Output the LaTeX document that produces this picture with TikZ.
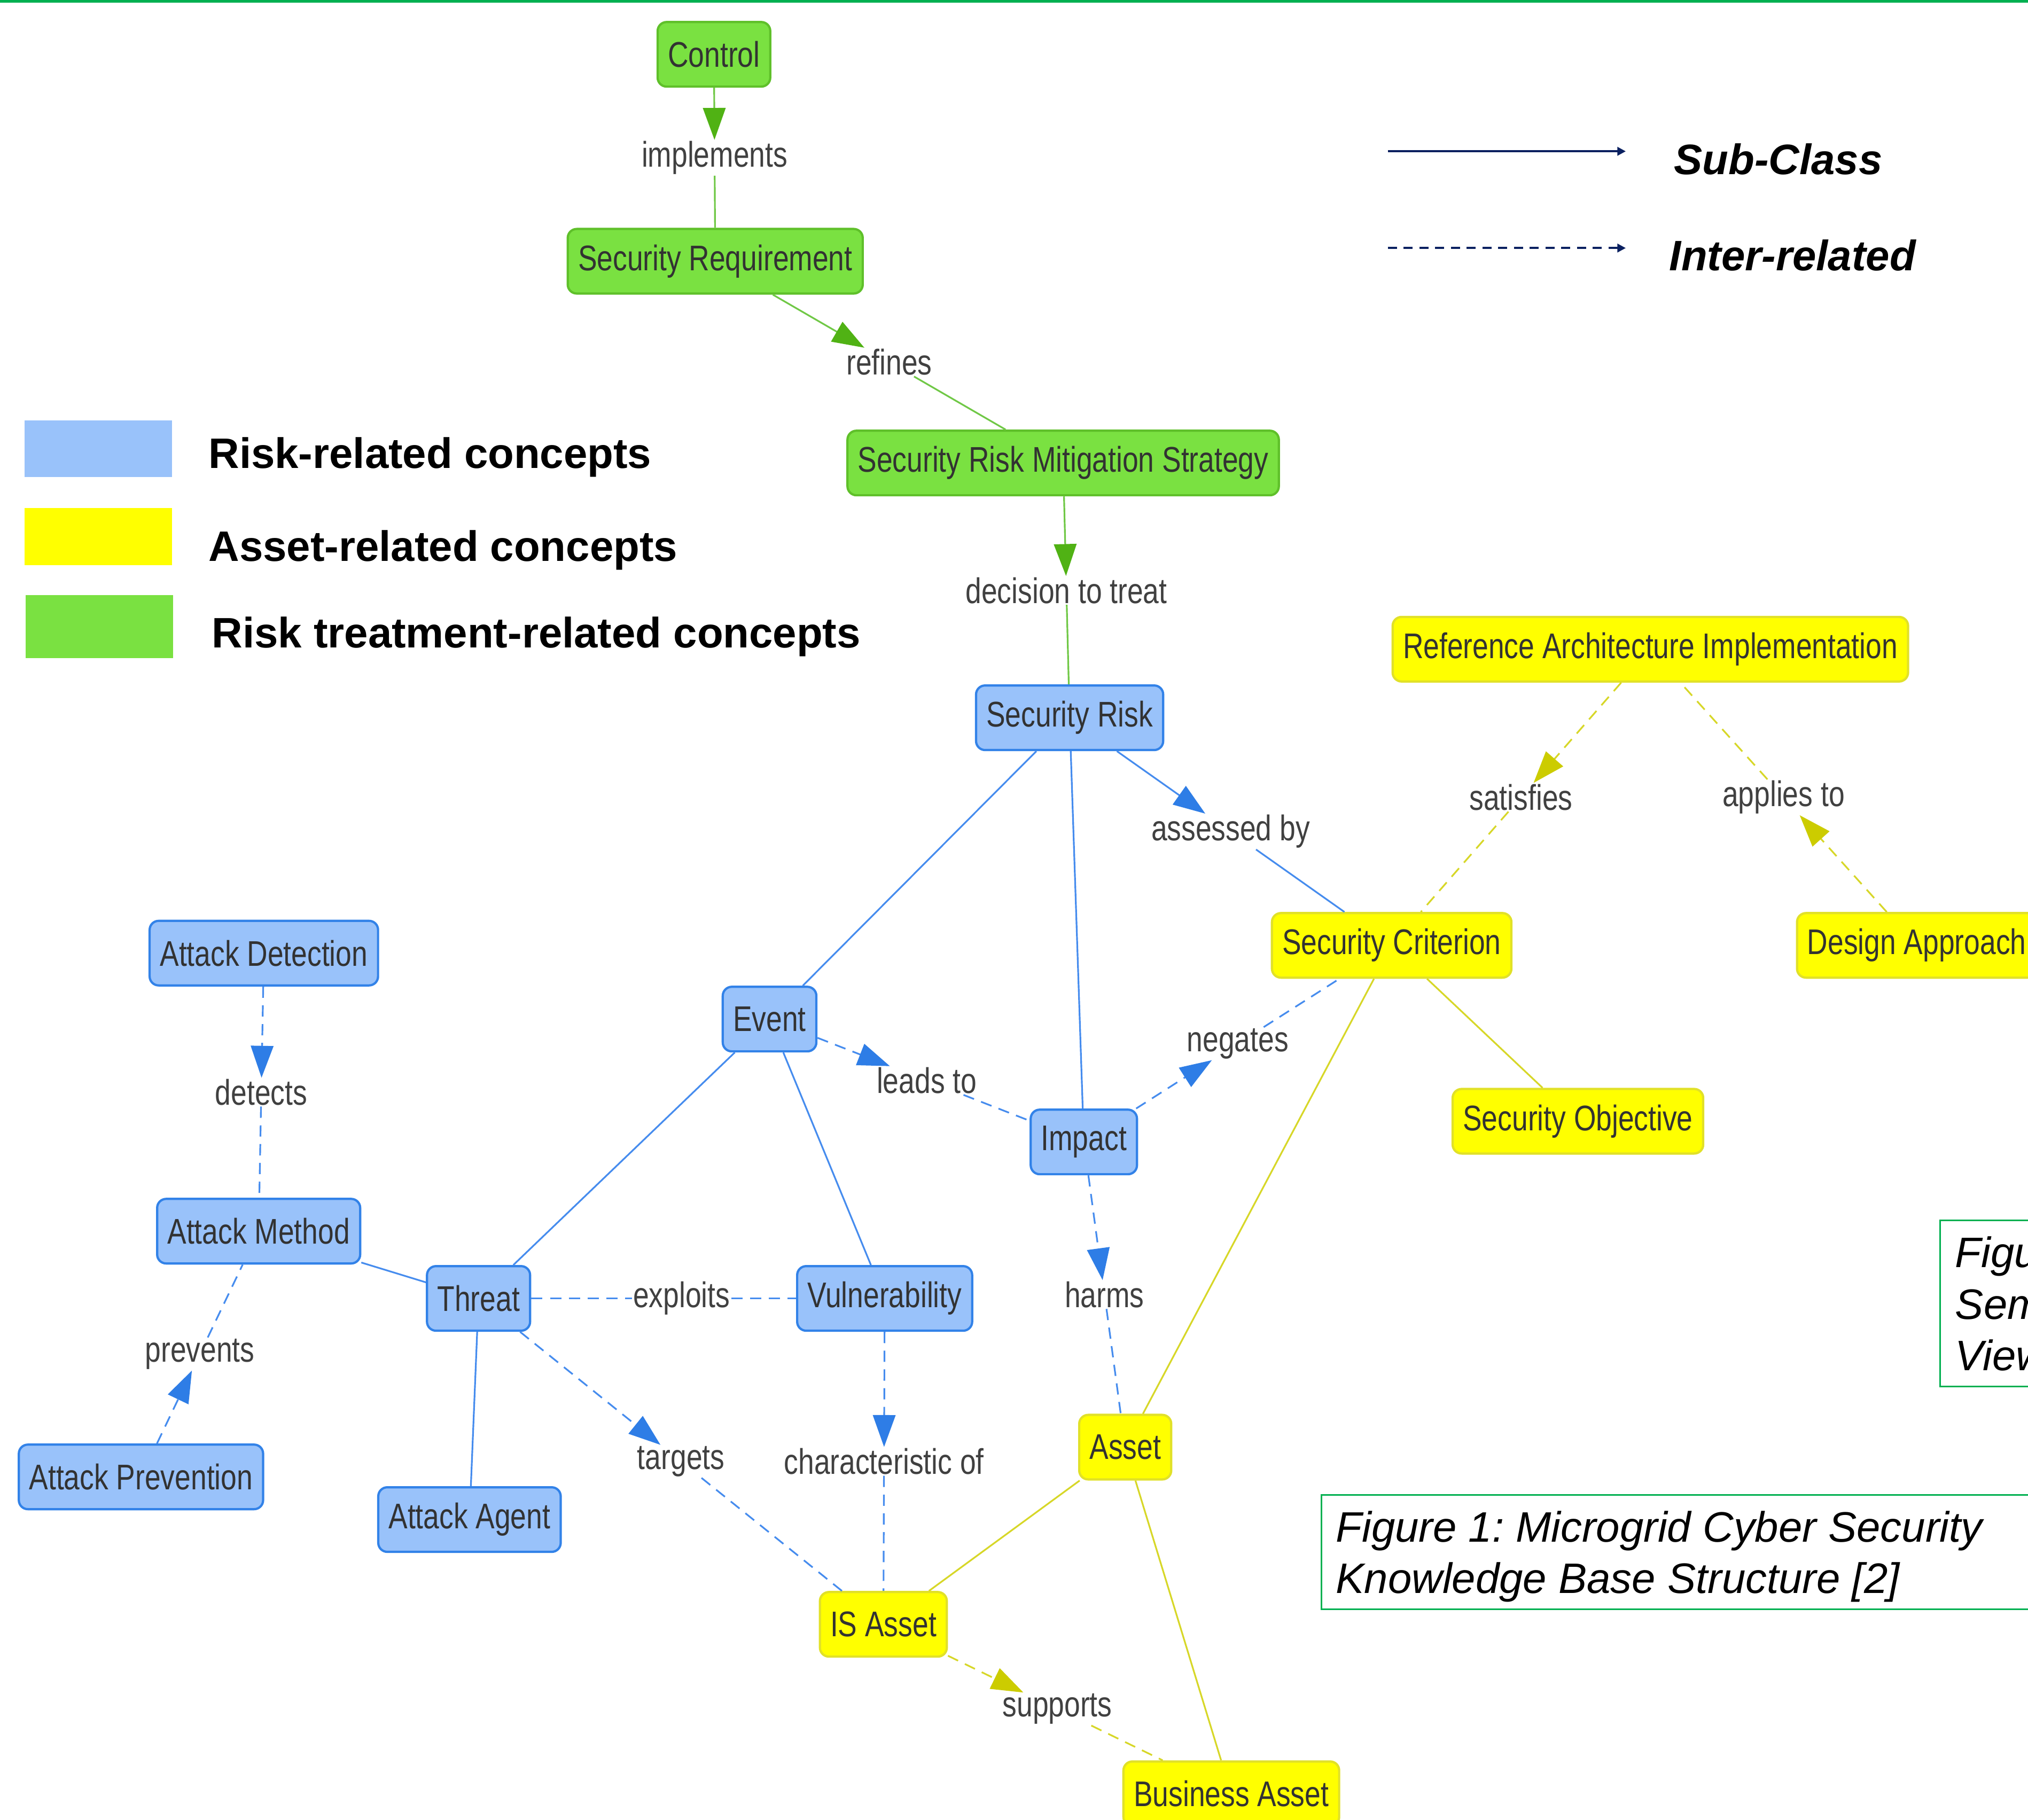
\documentclass[tikz,border=0pt]{standalone}
\usepackage{fontspec}
\usetikzlibrary{arrows.meta,calc}
\frenchspacing
\newfontfamily\nodefont[FakeStretch=0.8]{Liberation Sans}
\newfontfamily\legfont{Liberation Sans}
\definecolor{bfill}{RGB}{153,194,250}
\definecolor{bdraw}{RGB}{50,130,232}
\definecolor{bline}{RGB}{70,140,238}
\definecolor{barrow}{RGB}{46,125,230}
\definecolor{gfill}{RGB}{122,225,65}
\definecolor{gdraw}{RGB}{95,192,42}
\definecolor{gline}{RGB}{112,200,70}
\definecolor{garrow}{RGB}{80,178,20}
\definecolor{yfill}{RGB}{255,255,0}
\definecolor{ydraw}{RGB}{225,225,40}
\definecolor{yline}{RGB}{215,215,40}
\definecolor{yarrow}{RGB}{204,204,0}
\definecolor{nodetext}{RGB}{50,50,50}
\definecolor{labtext}{RGB}{64,64,64}
\definecolor{navy}{RGB}{10,32,96}
\definecolor{capgreen}{RGB}{0,176,80}
\tikzset{
  cnode/.style={draw, rounded corners=4.8pt, line width=1.2pt, minimum height=34.4pt,
    inner xsep=5.5pt, inner ysep=0pt, text=nodetext,
    font=\nodefont\fontsize{19}{22}\selectfont},
  risk/.style={cnode, fill=bfill, draw=bdraw},
  assetc/.style={cnode, fill=yfill, draw=ydraw},
  treat/.style={cnode, fill=gfill, draw=gdraw},
  lab/.style={inner sep=0.5pt, text=labtext, font=\nodefont\fontsize{19}{22}\selectfont},
  bl/.style={draw=bline, line width=0.9pt},
  bld/.style={bl, dash pattern=on 6pt off 4pt},
  gl/.style={draw=gline, line width=0.9pt},
  yl/.style={draw=yline, line width=0.9pt},
  yld/.style={yl, dash pattern=on 6pt off 4pt},
  barr/.style={-{Triangle[length=17pt,width=12pt,color=barrow]}},
  garr/.style={-{Triangle[length=17pt,width=12pt,color=garrow]}},
  yarr/.style={-{Triangle[length=17pt,width=12pt,color=yarrow]}},
  legtext/.style={anchor=base west, inner sep=0pt, font=\legfont\bfseries\fontsize{22.7}{27}\selectfont},
  keytext/.style={anchor=base west, inner sep=0pt, font=\legfont\bfseries\itshape\fontsize{22.7}{27}\selectfont},
  captext/.style={anchor=base west, inner sep=0pt, font=\legfont\itshape\fontsize{22.7}{27}\selectfont},
}
\begin{document}
\begin{tikzpicture}[x=0.02421cm, y=-0.02421cm]
\useasboundingbox (0,0) rectangle (1568,1407.3);
\clip (0,0) rectangle (1568,1407.3);
\fill[white] (0,0) rectangle (1568,1407.3);
\draw[capgreen, line width=1.4pt] (0,1) -- (1568,1);

% nodes
\node[treat] (ctrl) at (552,42) {Control};
\node[treat] (sreq) at (553,202) {Security Requirement};
\node[treat] (srms) at (822,358) {Security Risk Mitigation Strategy};
\node[risk] (srisk) at (827,555) {Security Risk};
\node[assetc] (rai) at (1276,502) {Reference Architecture Implementation};
\node[assetc] (scrit) at (1076,731) {Security Criterion};
\node[assetc] (dapp) at (1482,731) {Design Approach};
\node[risk] (adet) at (204,737) {Attack Detection};
\node[risk] (event) at (595,788) {Event};
\node[risk] (impact) at (838,883) {Impact};
\node[assetc] (sobj) at (1220,867) {Security Objective};
\node[risk] (amethod) at (200,952) {Attack Method};
\node[risk] (threat) at (370,1004) {Threat};
\node[risk] (vuln) at (684,1004) {Vulnerability};
\node[risk] (aprev) at (109,1142) {Attack Prevention};
\node[risk] (aagent) at (363,1175) {Attack Agent};
\node[assetc] (asset) at (870,1119) {Asset};
\node[assetc] (isasset) at (683,1256) {IS Asset};
\node[assetc] (basset) at (952,1387) {Business Asset};

% labels
\node[lab] (limp) at ($(ctrl)!0.5!(sreq)$) {implements};
\node[lab] (lref) at ($(sreq)!0.5!(srms)$) {refines};
\node[lab] (ldec) at ($(srms)!0.5!(srisk)$) {decision to treat};
\node[lab] (lass) at ($(srisk)!0.5!(scrit)$) {assessed by};
\node[lab] (llead) at ($(event)!0.5!(impact)$) {leads to};
\node[lab] (lneg) at ($(impact)!0.5!(scrit)$) {negates};
\node[lab] (lharm) at ($(impact)!0.5!(asset)$) {harms};
\node[lab] (lexp) at ($(threat)!0.5!(vuln)$) {exploits};
\node[lab] (ltar) at ($(threat)!0.5!(isasset)$) {targets};
\node[lab] (lchar) at ($(vuln)!0.5!(isasset)$) {characteristic of};
\node[lab] (ldet) at ($(adet)!0.5!(amethod)$) {detects};
\node[lab] (lprev) at ($(aprev)!0.5!(amethod)$) {prevents};
\node[lab] (lsat) at ($(rai)!0.5!(scrit)$) {satisfies};
\node[lab] (lapp) at ($(dapp)!0.5!(rai)$) {applies to};
\node[lab] (lsup) at ($(isasset)!0.5!(basset)$) {supports};

% green edges
\draw[gl,garr] (ctrl) -- (limp); \draw[gl] (limp) -- (sreq);
\draw[gl,garr] (sreq) -- (lref); \draw[gl] (lref) -- (srms);
\draw[gl,garr] (srms) -- (ldec); \draw[gl] (ldec) -- (srisk);

% blue solid
\draw[bl] (srisk) -- (event);
\draw[bl] (srisk) -- (impact);
\draw[bl,barr] (srisk) -- (lass); \draw[bl] (lass) -- (scrit);
\draw[bl] (event) -- (threat);
\draw[bl] (event) -- (vuln);
\draw[bl] (amethod) -- (threat);
\draw[bl] (threat) -- (aagent);

% blue dashed
\draw[bld,barr] (event) -- (llead); \draw[bld] (llead) -- (impact);
\draw[bld,barr] (impact) -- (lneg); \draw[bld] (lneg) -- (scrit);
\draw[bld,barr] (impact) -- (lharm); \draw[bld] (lharm) -- (asset);
\draw[bld] (threat) -- (lexp); \draw[bld] (lexp) -- (vuln);
\draw[bld,barr] (threat) -- (ltar); \draw[bld] (ltar) -- (isasset);
\draw[bld,barr] (vuln) -- (lchar); \draw[bld] (lchar) -- (isasset);
\draw[bld,barr] (adet) -- (ldet); \draw[bld] (ldet) -- (amethod);
\draw[bld,barr] (aprev) -- (lprev); \draw[bld] (lprev) -- (amethod);

% yellow
\draw[yl] (scrit) -- (asset);
\draw[yl] (scrit) -- (sobj);
\draw[yl] (asset) -- (isasset);
\draw[yl] (asset) -- (basset);
\draw[yld,yarr] (rai) -- (lsat); \draw[yld] (lsat) -- (scrit);
\draw[yld,yarr] (dapp) -- (lapp); \draw[yld] (lapp) -- (rai);
\draw[yld,yarr] (isasset) -- (lsup); \draw[yld] (lsup) -- (basset);

% colour legend
\fill[bfill] (19,325) rectangle (133,369);
\fill[yfill] (19,393) rectangle (133,437);
\fill[gfill] (20,460) rectangle (134,509);
\node[legtext] (t1) at (161,362) {Risk-related concepts};
\node[legtext] (t2) at (161,434) {Asset-related concepts};
\node[legtext] (t3) at (163.5,501) {Risk treatment-related concepts};

% line legend
\coordinate (k1a) at (1073,117); \coordinate (k1b) at (1257,117);
\coordinate (k2a) at (1073,191.8); \coordinate (k2b) at (1257,191.8);
\draw[navy, line width=1.1pt, -{Triangle[length=4.5pt,width=4.5pt]}] (k1a) -- (k1b);
\draw[navy, line width=1.1pt, dash pattern=on 4.8pt off 3.6pt, -{Triangle[length=4.5pt,width=4.5pt]}] (k2a) -- (k2b);
\node[keytext] (k1t) at (1294,135) {Sub-Class};
\node[keytext] (k2t) at (1290.5,209.3) {Inter-related};

% caption boxes
\draw[capgreen, line width=0.8pt] (1021.6,1156) rectangle (1620,1244.5);
\node[captext] (c1) at (1032.6,1192.3) {Figure 1: Microgrid Cyber Security};
\node[captext] (c2) at (1032.6,1232) {Knowledge Base Structure [2]};
\draw[capgreen, line width=0.8pt] (1500,943.5) rectangle (1620,1072);
\node[captext] (d1) at (1511.5,980) {Figu};
\node[captext] (d2) at (1511.5,1020) {Sem};
\node[captext] (d3) at (1511.5,1059.6) {View};
\end{tikzpicture}
\end{document}
